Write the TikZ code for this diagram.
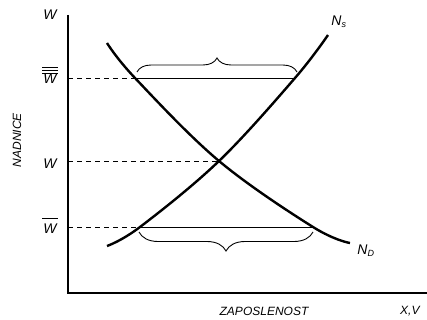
\documentclass[tikz,border=0pt]{standalone}
\usepackage{fontspec}
\setmainfont{Liberation Sans}
\usetikzlibrary{decorations.pathreplacing}
\begin{document}
\begin{tikzpicture}[x=1pt,y=-1pt,
  lbl/.style={font=\itshape\fontsize{12}{14}\selectfont, inner sep=0pt},
  wlbl/.style={font=\itshape\fontsize{14}{16}\selectfont, inner sep=0pt},
  curve/.style={line width=2.4pt},
  axis/.style={line width=1.6pt},
  level/.style={line width=0.8pt},
  guide/.style={line width=0.8pt, dash pattern=on 5pt off 4pt},
  bracestyle/.style={line width=0.9pt, decorate}]
\useasboundingbox (0,0) rectangle (427,320);
% axes
\coordinate (O) at (68,293);
\coordinate (Ytop) at (68,15);
\coordinate (Xend) at (427,293);
\draw[axis] (Ytop) -- (O) -- (Xend);
% key points
\coordinate (A) at (135,78);
\coordinate (B) at (295,78);
\coordinate (E) at (219,161);
\coordinate (C) at (140,227);
\coordinate (D) at (313,227);
\coordinate (yA) at (68,78);
\coordinate (yE) at (68,161);
\coordinate (yC) at (68,227);
% dashed guides
\draw[guide] (yA) -- (A);
\draw[guide] (yE) -- (E);
\draw[guide] (yC) -- (C);
% horizontal levels
\draw[level] (A) -- (B);
\draw[level] (C) -- (D);
% curves
\draw[curve] plot[smooth, tension=0.6] coordinates {(107,43) (A) (E) (D) (350,243)};
\draw[curve] plot[smooth, tension=0.6] coordinates {(107,246) (C) (E) (B) (328,35)};
% braces
\coordinate (ub1) at (137,72);
\coordinate (ub2) at (297,72);
\coordinate (lb1) at (313,232);
\coordinate (lb2) at (139,232);
\draw[bracestyle, decoration={brace, amplitude=14pt}] (ub1) -- (ub2);
\draw[bracestyle, decoration={brace, amplitude=19pt}] (lb1) -- (lb2);
% labels
\node[wlbl] (wtop) at (50,15) {W};
\node[wlbl] (w3) at (50,79) {W};
\foreach \yy in {67,70,73}
  \draw[line width=0.8pt] (42,\yy) -- (58,\yy);
\node[wlbl] (wmid) at (50,164) {W};
\node[wlbl] (w1) at (50,229) {W};
\draw[line width=0.8pt] (42,218) -- (58,218);
\node[lbl, rotate=90] (nad) at (17,140) {NADNICE};
\node[lbl] (zap) at (264,311) {ZAPOSLENOST};
\node[lbl, anchor=west] (xv) at (400,311) {X,V};
\node[wlbl] (ns) at (339,22) {N\textsubscript{\fontsize{9}{10}\selectfont s}};
\node[wlbl] (nd) at (366,251) {N\textsubscript{\fontsize{9}{10}\selectfont D}};
\end{tikzpicture}
\end{document}
